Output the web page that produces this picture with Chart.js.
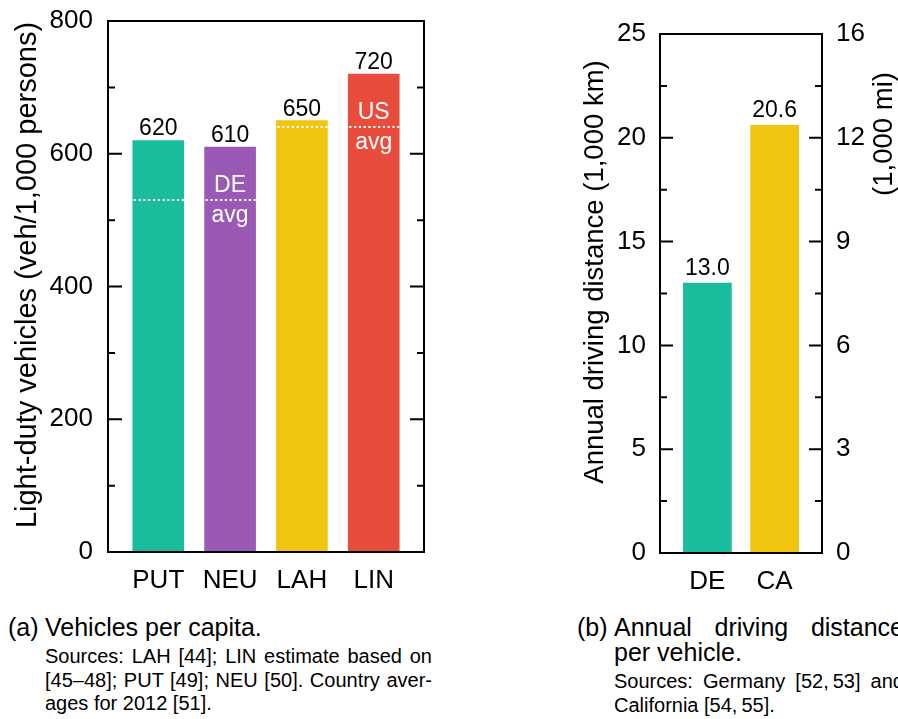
<!DOCTYPE html>
<html><head><meta charset="utf-8">
<script src="https://cdn.jsdelivr.net/npm/chart.js@4"></script>
<style>
html,body{margin:0;padding:0;width:898px;height:719px;overflow:hidden;background:#fff;font-family:"Liberation Sans",Arial,Helvetica,sans-serif;color:#000;}
.wrap{position:absolute;top:0;}
.lab{position:absolute;top:615px;font-size:25px;line-height:25px;}
.cap{position:absolute;top:615px;text-align:justify;}
.ct{font-size:25px;line-height:25px;}
.cs{font-size:20px;line-height:23.5px;margin-top:5px;}
</style></head><body>
<div class="wrap" style="left:0;width:450px;height:600px"><canvas id="c1" width="450" height="600"></canvas></div>
<div class="wrap" style="left:540px;width:358px;height:600px"><canvas id="c2" width="358" height="600"></canvas></div>

<div class="lab" style="left:8px">(a)</div>
<div class="cap" style="left:45px;width:387px">
  <div class="ct">Vehicles per capita.</div>
  <div class="cs">Sources: LAH [44]; LIN estimate based on [45–48]; PUT [49]; NEU [50]. Country aver&shy;ages for 2012 [51].</div>
</div>
<div class="lab" style="left:577px">(b)</div>
<div class="cap" style="left:614px;width:290px">
  <div class="ct">Annual driving distance per vehicle.</div>
  <div class="cs">Sources: Germany [52,&#8239;53] and California [54,&#8239;55].</div>
</div>

<script>
// ---- data ----
const categoriesA = ['PUT', 'NEU', 'LAH', 'LIN'];
const vehiclesPerCapita = [620, 610, 650, 720];
const countryAvg = [530, 530, 640, 640];          // DE avg (PUT, NEU), US avg (LAH, LIN)
const avgTextA = [null, ['DE', 'avg'], null, ['US', 'avg']];
const yTicksA = [0, 200, 400, 600, 800];

const categoriesB = ['DE', 'CA'];
const drivingDistanceKm = [13.0, 20.6];
const kmTicksB = [0, 5, 10, 15, 20, 25];
const miTickLabelsB = ['0', '3', '6', '9', '12', '16'];

const colorsA = ['#1ABC9C', '#9B59B6', '#F1C40F', '#E74C3C'];
const colorsB = ['#1ABC9C', '#F1C40F'];

const FAMILY = '"Liberation Sans", Arial, Helvetica, sans-serif';

function frameTicks(major, majorLen, minorLen) {
  return {
    id: 'frameTicks',
    afterDatasetsDraw(chart) {
      const {ctx, chartArea: a} = chart;
      const y = chart.scales.y;
      const minor = [];
      for (let i = 0; i < major.length - 1; i++) minor.push((major[i] + major[i + 1]) / 2);
      ctx.save();
      ctx.strokeStyle = '#000';
      ctx.lineWidth = 2;
      ctx.beginPath();
      const mark = (v, len) => {
        const p = y.getPixelForValue(v);
        ctx.moveTo(a.left, p); ctx.lineTo(a.left + len, p);
        ctx.moveTo(a.right, p); ctx.lineTo(a.right - len, p);
      };
      major.forEach(v => mark(v, majorLen));
      minor.forEach(v => mark(v, minorLen));
      ctx.stroke();
      ctx.strokeRect(a.left, a.top, a.right - a.left, a.bottom - a.top);
      ctx.restore();
    }
  };
}

function valueLabels(fmt, gap) {
  return {
    id: 'valueLabels',
    afterDatasetsDraw(chart) {
      const ctx = chart.ctx;
      const meta = chart.getDatasetMeta(0);
      const data = chart.data.datasets[0].data;
      ctx.save();
      ctx.fillStyle = '#000';
      ctx.font = '23px ' + FAMILY;
      ctx.textAlign = 'center';
      ctx.textBaseline = 'alphabetic';
      meta.data.forEach((bar, i) => {
        ctx.fillText(fmt(data[i].y), bar.x, bar.y - gap);
      });
      ctx.restore();
    }
  };
}

const avgLines = {
  id: 'avgLines',
  afterDatasetsDraw(chart) {
    const ctx = chart.ctx;
    const y = chart.scales.y;
    const meta = chart.getDatasetMeta(0);
    ctx.save();
    ctx.strokeStyle = '#fff';
    ctx.fillStyle = '#fff';
    ctx.lineWidth = 2;
    ctx.setLineDash([2.2, 2.6]);
    ctx.font = '23px ' + FAMILY;
    ctx.textAlign = 'center';
    ctx.textBaseline = 'alphabetic';
    meta.data.forEach((bar, i) => {
      const p = Math.round(y.getPixelForValue(countryAvg[i]));
      ctx.beginPath();
      ctx.moveTo(bar.x - bar.width / 2 + 1, p);
      ctx.lineTo(bar.x + bar.width / 2, p);
      ctx.stroke();
      if (avgTextA[i]) {
        ctx.fillText(avgTextA[i][0], bar.x, p - 8.5);
        ctx.fillText(avgTextA[i][1], bar.x, p + 21.5);
      }
    });
    ctx.restore();
  }
};

function rotTitles(list) {
  return {
    id: 'rotTitles',
    afterDraw(chart) {
      const ctx = chart.ctx;
      ctx.save();
      ctx.fillStyle = '#000';
      ctx.textAlign = 'center';
      ctx.textBaseline = 'middle';
      list.forEach(t => {
        ctx.save();
        ctx.font = t.size + 'px ' + FAMILY;
        ctx.translate(t.x, t.y);
        ctx.rotate(-Math.PI / 2);
        ctx.fillText(t.text, 0, 0);
        ctx.restore();
      });
      ctx.restore();
    }
  };
}

const tickFont = {family: FAMILY, size: 26};
const noPad = s => { s.paddingTop = 0; s.paddingBottom = 0; s.paddingLeft = 0; s.paddingRight = 0; };

// ---- chart (a) ----
new Chart(document.getElementById('c1'), {
  type: 'bar',
  data: {
    datasets: [{
      data: vehiclesPerCapita.map((v, i) => ({x: i, y: v})),
      backgroundColor: colorsA,
      borderWidth: 0,
      barThickness: 51
    }]
  },
  options: {
    responsive: false,
    animation: false,
    events: [],
    layout: {padding: {top: 21, right: 26, left: 0, bottom: 0}},
    plugins: {legend: {display: false}, tooltip: {enabled: false}},
    scales: {
      x: {
        type: 'linear', min: -0.7, max: 3.7, offset: false, bounds: 'data',
        afterBuildTicks: s => { s.ticks = categoriesA.map((c, i) => ({value: i})); },
        afterFit: s => { s.height = 48; noPad(s); },
        grid: {display: false, drawTicks: false, offset: false},
        border: {display: false},
        ticks: {font: tickFont, color: '#000', padding: 13, maxRotation: 0, autoSkip: false,
                callback: v => categoriesA[v]}
      },
      y: {
        min: 0, max: 800,
        afterBuildTicks: s => { s.ticks = yTicksA.map(v => ({value: v})); },
        afterFit: s => { s.width = 108; noPad(s); },
        grid: {display: false, drawTicks: false},
        border: {display: false},
        ticks: {font: tickFont, color: '#000', padding: 15}
      }
    }
  },
  plugins: [frameTicks(yTicksA, 14, 7), valueLabels(v => String(v), 5), avgLines,
            rotTitles([{text: 'Light-duty vehicles (veh/1,000 persons)', x: 28, y: 275, size: 29}])]
});

// ---- chart (b) ----
new Chart(document.getElementById('c2'), {
  type: 'bar',
  data: {
    datasets: [{
      data: drivingDistanceKm.map((v, i) => ({x: i, y: v})),
      backgroundColor: colorsB,
      borderWidth: 0,
      barThickness: 48
    }]
  },
  options: {
    responsive: false,
    animation: false,
    events: [],
    layout: {padding: {top: 34, right: 0, left: 0, bottom: 0}},
    plugins: {legend: {display: false}, tooltip: {enabled: false}},
    scales: {
      x: {
        type: 'linear', min: -0.705, max: 1.705, offset: false, bounds: 'data',
        afterBuildTicks: s => { s.ticks = categoriesB.map((c, i) => ({value: i})); },
        afterFit: s => { s.height = 47; noPad(s); },
        grid: {display: false, drawTicks: false, offset: false},
        border: {display: false},
        ticks: {font: tickFont, color: '#000', padding: 13, maxRotation: 0, autoSkip: false,
                callback: v => categoriesB[v]}
      },
      y: {
        position: 'left', min: 0, max: 25,
        afterBuildTicks: s => { s.ticks = kmTicksB.map(v => ({value: v})); },
        afterFit: s => { s.width = 120; noPad(s); },
        grid: {display: false, drawTicks: false},
        border: {display: false},
        ticks: {font: tickFont, color: '#000', padding: 14}
      },
      y2: {
        position: 'right', min: 0, max: 25,
        afterBuildTicks: s => { s.ticks = kmTicksB.map(v => ({value: v})); },
        afterFit: s => { s.width = 76; noPad(s); },
        grid: {display: false, drawTicks: false},
        border: {display: false},
        ticks: {font: tickFont, color: '#000', padding: 14,
                callback: (v, i) => miTickLabelsB[i]}
      }
    }
  },
  plugins: [frameTicks(kmTicksB, 13, 7), valueLabels(v => v.toFixed(1), 8),
            rotTitles([{text: 'Annual driving distance (1,000 km)', x: 55, y: 272, size: 27.5},
                       {text: '(1,000 mi)', x: 344, y: 134, size: 27.5}])]
});
</script>
</body></html>
